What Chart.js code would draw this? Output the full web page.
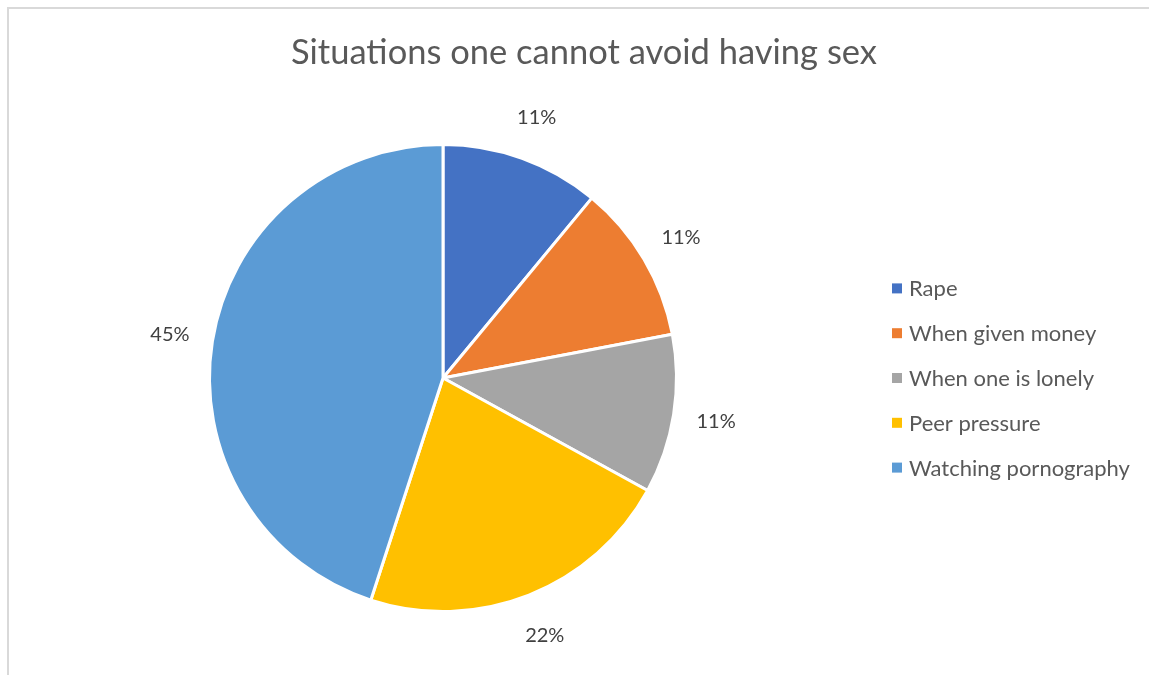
<!DOCTYPE html>
<html>
<head>
<meta charset="utf-8">
<script src="https://cdn.jsdelivr.net/npm/chart.js@4.4.0/dist/chart.umd.min.js"></script>
<style>
  html, body { margin: 0; padding: 0; background: #fff; overflow: hidden; }
  #frame {
    position: absolute; left: 7px; top: 7px; width: 1200px; height: 700px;
    border-left: 2px solid #d9d9d9; border-top: 2px solid #d9d9d9;
  }
  #wrap { position: absolute; left: 0; top: 0; width: 1149px; height: 675px; }
</style>
</head>
<body>
<div id="frame"></div>
<div id="wrap"><canvas id="pieChart" width="1149" height="675"></canvas></div>
<script>
const chartTitle = 'Situations one cannot avoid having sex';
const situations = ['Rape', 'When given money', 'When one is lonely', 'Peer pressure', 'Watching pornography'];
const shares = [11, 11, 11, 22, 45];
const sliceColors = ['#4472C4', '#ED7D31', '#A5A5A5', '#FFC000', '#5B9BD5'];

const FONT = 'Lato, "Open Sans", sans-serif';

// title, outside percentage labels and the right-hand legend
const decorations = {
  id: 'decorations',
  afterDraw(chart) {
    const ctx = chart.ctx;
    const meta = chart.getDatasetMeta(0);
    ctx.save();

    ctx.fillStyle = '#595959';
    ctx.font = '34.5px ' + FONT;
    ctx.textAlign = 'center';
    ctx.textBaseline = 'middle';
    ctx.fillText(chartTitle, 584, 53);

    ctx.fillStyle = '#404040';
    ctx.font = '20px ' + FONT;
    meta.data.forEach((arc, i) => {
      const p = arc.getProps(['x', 'y', 'startAngle', 'endAngle', 'outerRadius'], true);
      const mid = (p.startAngle + p.endAngle) / 2;
      const dist = p.outerRadius + 43;
      ctx.fillText(shares[i] + '%', p.x + Math.cos(mid) * dist, p.y + Math.sin(mid) * dist);
    });

    const cy = meta.data[0].y;
    ctx.font = '22px ' + FONT;
    ctx.textAlign = 'left';
    situations.forEach((name, i) => {
      const y = cy + (i - 2) * 44.8;
      ctx.fillStyle = sliceColors[i];
      ctx.fillRect(892, y - 5, 10, 10);
      ctx.fillStyle = '#595959';
      ctx.fillText(name, 909, y + 1);
    });
    ctx.restore();
  }
};

new Chart(document.getElementById('pieChart'), {
  type: 'pie',
  data: {
    labels: situations,
    datasets: [{
      data: shares,
      backgroundColor: sliceColors,
      borderColor: '#ffffff',
      borderWidth: 3
    }]
  },
  options: {
    responsive: false,
    animation: false,
    layout: { padding: { left: 0, right: 263, top: 143, bottom: 62 } },
    plugins: {
      legend: { display: false },
      title: { display: false },
      tooltip: { enabled: false }
    }
  },
  plugins: [decorations]
});
</script>
</body>
</html>
